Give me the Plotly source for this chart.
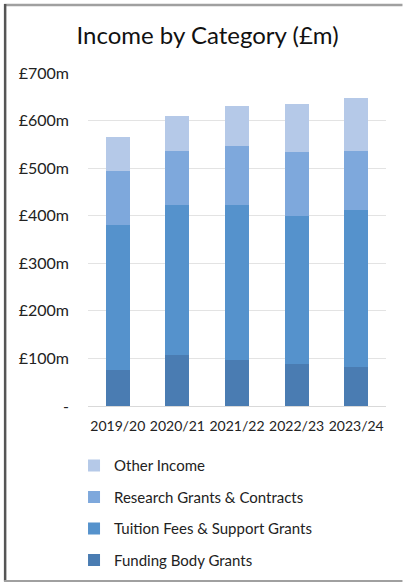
import plotly.graph_objects as go

years = ["2019/20", "2020/21", "2021/22", "2022/23", "2023/24"]
funding_body = [75, 108, 97, 88, 82]
tuition_fees = [306, 315, 325, 311, 329]
research = [113, 112, 125, 134, 124]
other_income = [71, 75, 84, 101, 112]

series_names = ["Funding Body Grants", "Tuition Fees & Support Grants",
                "Research Grants & Contracts", "Other Income"]
series_values = [funding_body, tuition_fees, research, other_income]
series_colors = ["#4a7cb2", "#5592cc", "#7ea8dc", "#b5c9e8"]
legend_ranks = [4, 3, 2, 1]

ytick_vals = [0, 100, 200, 300, 400, 500, 600, 700]
ytick_text = ["-", "£100m", "£200m", "£300m", "£400m", "£500m", "£600m", "£700m"]

FONT = "Lato"

fig = go.Figure()
for i, (name, vals, col, rk) in enumerate(zip(series_names, series_values,
                                              series_colors, legend_ranks)):
    fig.add_trace(go.Bar(x=years, y=vals, name=name, marker_color=col,
                         marker_line_width=0, legendgroup=f"g{i}",
                         legendrank=rk))

W, H = 403, 582
L, R, T, B = 88, 16.5, 73, 176.3
pw, ph = W - L - R, H - T - B

def px_x(px):
    return (px - L) / pw

def px_y(py):
    return (H - B - py) / ph

fig.update_layout(
    width=W, height=H,
    margin=dict(l=L, r=R, t=T, b=B, autoexpand=False),
    barmode="stack", bargap=0.6,
    paper_bgcolor="white", plot_bgcolor="white",
    font=dict(family=FONT, size=15, color="#222222"),
    title=dict(text="Income by Category (£m)", x=0.515, xanchor="center",
               y=1 - 36 / H, yanchor="middle",
               font=dict(family=FONT, size=24, color="#111111")),
    xaxis=dict(showgrid=False, showline=True, linecolor="#d9d9d9", linewidth=1,
               ticks="", tickangle=0, ticklabelstandoff=7,
               tickfont=dict(size=14, color="#222222")),
    yaxis=dict(range=[0, 700], tickvals=ytick_vals, ticktext=ytick_text,
               showgrid=True, gridcolor="#e3e3e3", gridwidth=1,
               zeroline=False, showline=False, ticks="",
               ticklabelstandoff=18, tickfont=dict(size=16, color="#222222")),
    legend=dict(traceorder="grouped", tracegroupgap=9,
                x=px_x(74), xanchor="left", y=px_y(449), yanchor="top",
                font=dict(size=15, color="#222222"), itemwidth=30),
    showlegend=True,
    shapes=[
        dict(type="line", xref="paper", yref="paper", x0=px_x(4), x1=px_x(403),
             y0=px_y(5), y1=px_y(5), line=dict(color="#a0a0a0", width=2.5)),
        dict(type="line", xref="paper", yref="paper", x0=px_x(5), x1=px_x(5),
             y0=px_y(4), y1=px_y(581), line=dict(color="#555555", width=2.5)),
        dict(type="line", xref="paper", yref="paper", x0=px_x(4), x1=px_x(403),
             y0=px_y(580.5), y1=px_y(580.5), line=dict(color="#a0a0a0", width=2)),
    ],
)

fig.write_html("out.html")
